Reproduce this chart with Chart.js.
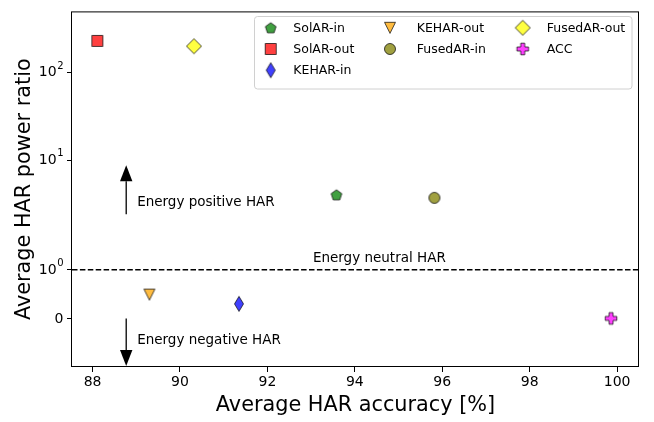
<!DOCTYPE html>
<html>
<head>
<meta charset="utf-8">
<script src="https://cdn.jsdelivr.net/npm/chart.js@4/dist/chart.umd.min.js"></script>
<style>
  html, body { margin: 0; padding: 0; background: #fff; }
  #wrap { width: 654px; height: 422px; }
</style>
</head>
<body>
<div id="wrap"><canvas id="c" width="654" height="422"></canvas></div>
<script>
// ---- data ----
const seriesNames = ['SolAR-in', 'SolAR-out', 'KEHAR-in', 'KEHAR-out', 'FusedAR-in', 'FusedAR-out', 'ACC'];
const accuracy    = [93.58, 88.11, 91.35, 89.30, 95.82, 90.32, 99.86];   // Average HAR accuracy [%]
const powerRatio  = [4.0, 230, 0.30, 0.49, 3.7, 200, 0];                 // Average HAR power ratio
const xTicks = [88, 90, 92, 94, 96, 98, 100];
const yTicks = [0, 1, 10, 100];
const yTickBase = ['0', '10', '10', '10'];   // tick label mantissa
const yTickExp  = ['', '0', '1', '2'];       // tick label exponent (superscript)
const neutralLevel = 1;

// region labels and arrows, in data coordinates
const noteTexts = ['Energy positive HAR', 'Energy negative HAR', 'Energy neutral HAR'];
const noteX     = [89.02, 89.02, 94.56];
const noteY     = [2.96, -0.52, 1.16];
const noteAlign = ['left', 'left', 'center'];
const arrowX    = [88.77, 88.77];
const arrowFrom = [2.4, 0];
const arrowTo   = [8.7, -0.98];

// legend: series per column (filled top to bottom)
const legendColumns = [[0, 1, 2], [3, 4], [5, 6]];

// ---- marker styles ----
const markerKind  = ['pentagon', 'square', 'thin_diamond', 'triangle_down', 'circle', 'diamond', 'plus'];
const markerFill  = ['rgba(0,128,0,0.75)', 'rgba(255,0,0,0.75)', 'rgba(0,0,255,0.75)', 'rgba(255,165,0,0.75)',
                     'rgba(128,128,0,0.75)', 'rgba(255,255,0,0.75)', 'rgba(255,0,255,0.75)'];
const markerEdge  = 'rgba(0,0,0,0.7)';

function makeMarker(kind, fill) {
  const S = 20, c = document.createElement('canvas');
  c.width = S; c.height = S;
  const g = c.getContext('2d');
  g.translate(S / 2, S / 2);
  g.beginPath();
  if (kind === 'pentagon') {
    const r = 5.6;
    for (let k = 0; k < 5; k++) {
      const a = -Math.PI / 2 + k * 2 * Math.PI / 5;
      g.lineTo(r * Math.cos(a), r * Math.sin(a) + 0.5);
    }
    g.closePath();
  } else if (kind === 'square') {
    g.rect(-5.5, -5.5, 11, 11);
  } else if (kind === 'thin_diamond') {
    g.moveTo(0, -7.5); g.lineTo(4.5, 0); g.lineTo(0, 7.5); g.lineTo(-4.5, 0); g.closePath();
  } else if (kind === 'triangle_down') {
    g.moveTo(-5.5, -5.5); g.lineTo(5.5, -5.5); g.lineTo(0, 5.5); g.closePath();
  } else if (kind === 'circle') {
    g.arc(0, 0, 5.5, 0, Math.PI * 2);
  } else if (kind === 'diamond') {
    g.moveTo(0, -7.5); g.lineTo(7.5, 0); g.lineTo(0, 7.5); g.lineTo(-7.5, 0); g.closePath();
  } else if (kind === 'plus') {
    const a = 5.8, b = 2;
    g.moveTo(-b, -a); g.lineTo(b, -a); g.lineTo(b, -b); g.lineTo(a, -b); g.lineTo(a, b);
    g.lineTo(b, b); g.lineTo(b, a); g.lineTo(-b, a); g.lineTo(-b, b); g.lineTo(-a, b);
    g.lineTo(-a, -b); g.lineTo(-b, -b); g.closePath();
  }
  g.fillStyle = fill; g.fill();
  g.lineWidth = 1; g.strokeStyle = markerEdge; g.lineJoin = 'miter'; g.stroke();
  return c;
}
const markerImages = markerKind.map((k, i) => makeMarker(k, markerFill[i]));

// ---- symmetric log scale (linear within ±linthresh, log10 outside) ----
const LINTHRESH = 2, LINSCALE = 1;
const LIN_ADJ = LINSCALE / (1 - 1 / 10);
function symlog(v) {
  const a = Math.abs(v);
  return a <= LINTHRESH ? v * LIN_ADJ : Math.sign(v) * LINTHRESH * (LIN_ADJ + Math.log10(a / LINTHRESH));
}
function symexp(t) {
  const a = Math.abs(t), lim = LINTHRESH * LIN_ADJ;
  return a <= lim ? t / LIN_ADJ : Math.sign(t) * LINTHRESH * Math.pow(10, a / LINTHRESH - LIN_ADJ);
}
class SymLogScale extends Chart.Scale {
  determineDataLimits() {
    const mm = this.getMinMax(false);
    this.min = (this.options.min !== undefined) ? this.options.min : mm.min;
    this.max = (this.options.max !== undefined) ? this.options.max : mm.max;
  }
  buildTicks() {
    return yTicks.filter(v => v >= this.min && v <= this.max).map(v => ({ value: v }));
  }
  configure() {
    super.configure();
    this._startValue = symlog(this.min);
    this._valueRange = symlog(this.max) - symlog(this.min);
  }
  getLabelForValue(v) { return String(v); }
  getPixelForValue(v) {
    return this.getPixelForDecimal((symlog(v) - this._startValue) / this._valueRange);
  }
  getValueForPixel(p) {
    return symexp(this._startValue + this.getDecimalForPixel(p) * this._valueRange);
  }
  getPixelForTick(i) {
    const t = this.ticks;
    return (i < 0 || i > t.length - 1) ? null : this.getPixelForValue(t[i].value);
  }
}
SymLogScale.id = 'symlog';
SymLogScale.defaults = {};
Chart.register(SymLogScale);

// ---- plugins ----
const frameAndNotes = {
  id: 'frameAndNotes',
  beforeDatasetsDraw(chart) {
    const { ctx, chartArea: ca, scales: { x, y } } = chart;
    ctx.save();
    // energy-neutral reference line
    const yn = y.getPixelForValue(neutralLevel);
    ctx.strokeStyle = '#000'; ctx.lineWidth = 1.5; ctx.setLineDash([5.5, 2.4]);
    ctx.beginPath(); ctx.moveTo(ca.left, yn); ctx.lineTo(ca.right, yn); ctx.stroke();
    ctx.setLineDash([]);
    // arrows
    for (let i = 0; i < arrowX.length; i++) {
      const px = x.getPixelForValue(arrowX[i]);
      const y0 = y.getPixelForValue(arrowFrom[i]);
      const y1 = y.getPixelForValue(arrowTo[i]);
      const dir = Math.sign(y1 - y0), headL = 16, headW = 6.2;
      ctx.lineWidth = 1.3; ctx.strokeStyle = '#000';
      ctx.beginPath(); ctx.moveTo(px, y0); ctx.lineTo(px, y1 - dir * headL); ctx.stroke();
      ctx.fillStyle = '#000';
      ctx.beginPath();
      ctx.moveTo(px, y1);
      ctx.lineTo(px - headW, y1 - dir * headL);
      ctx.lineTo(px + headW, y1 - dir * headL);
      ctx.closePath(); ctx.fill();
    }
    // region labels
    ctx.font = '13.5px "DejaVu Sans"';
    ctx.fillStyle = '#000';
    ctx.textBaseline = 'alphabetic';
    for (let i = 0; i < noteTexts.length; i++) {
      ctx.textAlign = noteAlign[i];
      ctx.fillText(noteTexts[i], x.getPixelForValue(noteX[i]), y.getPixelForValue(noteY[i]));
    }
    ctx.restore();
  },
  afterDraw(chart) {
    const { ctx, chartArea: ca, scales: { y } } = chart;
    ctx.save();
    // axes frame
    ctx.strokeStyle = '#000'; ctx.lineWidth = 1;
    ctx.strokeRect(ca.left - 0.5, ca.top + 0.5, ca.right - ca.left, ca.bottom - ca.top - 1);

    // y tick labels with superscript exponents
    ctx.fillStyle = '#000'; ctx.textBaseline = 'alphabetic'; ctx.textAlign = 'left';
    const rightEdge = y.right - 5 - 3.5;
    yTicks.forEach((v, i) => {
      const py = y.getPixelForValue(v);
      ctx.font = '14px "DejaVu Sans"';
      const wb = ctx.measureText(yTickBase[i]).width;
      let we = 0;
      if (yTickExp[i]) { ctx.font = '10px "DejaVu Sans"'; we = ctx.measureText(yTickExp[i]).width + 0.5; }
      const x0 = rightEdge - wb - we;
      const base = yTickExp[i] ? py + 3.8 : py + 5.1;
      ctx.font = '14px "DejaVu Sans"';
      ctx.fillText(yTickBase[i], x0, base);
      if (yTickExp[i]) {
        ctx.font = '10px "DejaVu Sans"';
        ctx.fillText(yTickExp[i], x0 + wb + 0.5, base - 7.6);
      }
    });

    // legend box
    const bx = 254.5, by = 16.5, bw = 377.5, bh = 72.5, r = 3;
    ctx.beginPath();
    ctx.moveTo(bx + r, by); ctx.lineTo(bx + bw - r, by); ctx.arcTo(bx + bw, by, bx + bw, by + r, r);
    ctx.lineTo(bx + bw, by + bh - r); ctx.arcTo(bx + bw, by + bh, bx + bw - r, by + bh, r);
    ctx.lineTo(bx + r, by + bh); ctx.arcTo(bx, by + bh, bx, by + bh - r, r);
    ctx.lineTo(bx, by + r); ctx.arcTo(bx, by, bx + r, by, r); ctx.closePath();
    ctx.fillStyle = 'rgba(255,255,255,0.8)'; ctx.fill();
    ctx.strokeStyle = '#d0d0d0'; ctx.lineWidth = 1; ctx.stroke();
    // legend entries
    const colMarkX = [270.7, 390, 522.7], colTextX = [293.3, 416.7, 546.7], rowY = [27.8, 49, 70.2];
    ctx.font = '12.5px "DejaVu Sans"'; ctx.fillStyle = '#000';
    ctx.textAlign = 'left'; ctx.textBaseline = 'middle';
    legendColumns.forEach((members, col) => {
      members.forEach((idx, row) => {
        const ds = chart.data.datasets[idx];
        const img = ds.pointStyle;
        ctx.drawImage(img, colMarkX[col] - img.width / 2, rowY[row] - img.height / 2);
        ctx.fillText(ds.label, colTextX[col], rowY[row] + 0.5);
      });
    });
    ctx.restore();
  }
};

Chart.defaults.font.family = '"DejaVu Sans"';
Chart.defaults.color = '#000';

const datasets = seriesNames.map((name, i) => ({
  label: name,
  data: [{ x: accuracy[i], y: powerRatio[i] }],
  pointStyle: markerImages[i],
  pointRadius: 6,
  pointHoverRadius: 6
}));

new Chart(document.getElementById('c'), {
  type: 'scatter',
  data: { datasets },
  options: {
    responsive: false,
    animation: false,
    events: [],
    layout: { padding: { top: 9, right: 15, left: 0, bottom: 0 } },
    plugins: { legend: { display: false }, tooltip: { enabled: false } },
    scales: {
      x: {
        type: 'linear',
        min: 87.53, max: 100.5,
        afterBuildTicks: s => { s.ticks = xTicks.map(v => ({ value: v })); },
        afterFit: s => { s.height = 55; },
        ticks: { autoSkip: false, maxRotation: 0, padding: 2, font: { size: 14 }, callback: v => String(v) },
        grid: { display: true, drawOnChartArea: false, drawTicks: true, tickLength: 5, tickColor: '#000', tickWidth: 1 },
        border: { display: false },
        title: { display: true, text: 'Average HAR accuracy [%]', font: { size: 20.8 }, padding: { top: 0, bottom: 4 } }
      },
      y: {
        type: 'symlog',
        min: -1, max: 500,
        afterFit: s => { s.width = 72; },
        ticks: { autoSkip: false, padding: 3, font: { size: 14 }, callback: () => '' },
        grid: { display: true, drawOnChartArea: false, drawTicks: true, tickLength: 5, tickColor: '#000', tickWidth: 1 },
        border: { display: false },
        title: { display: true, text: 'Average HAR power ratio', font: { size: 20.8 }, padding: { top: 12, bottom: 0 } }
      }
    }
  },
  plugins: [frameAndNotes]
});
</script>
</body>
</html>
